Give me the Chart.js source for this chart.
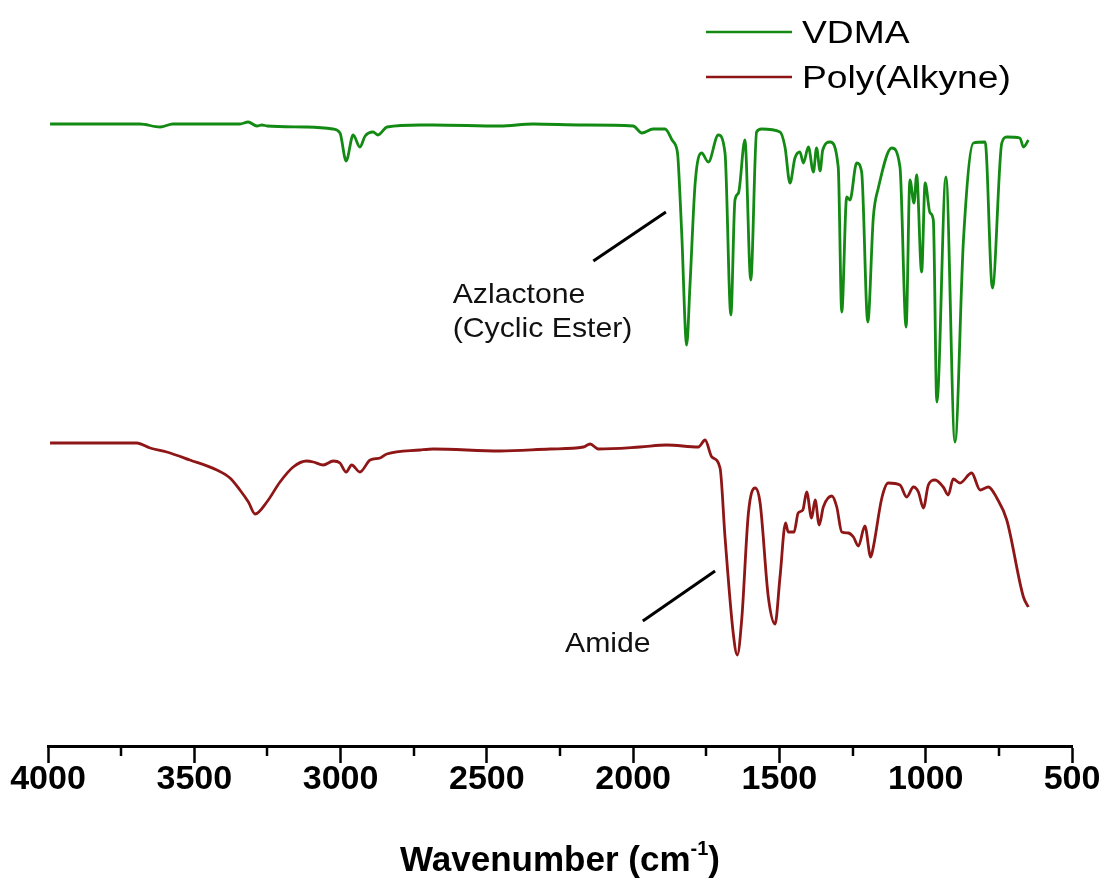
<!DOCTYPE html>
<html>
<head>
<meta charset="utf-8">
<title>FTIR VDMA vs Poly(Alkyne)</title>
<script src="https://cdn.jsdelivr.net/npm/chart.js@4.4.1/dist/chart.umd.min.js"></script>
<style>
    html, body { margin: 0; padding: 0; background: #fff; }
    #wrap { width: 1104px; height: 882px; }
</style>
</head>
<body>
<div id="wrap"><canvas id="ftir" width="1104" height="882"></canvas></div>
<script>
// values (offset transmittance, arbitrary units)
const vdmaWavenumber = [3993, 3686, 3617, 3573, 3344, 3316, 3286, 3269, 3251, 3115, 3026, 3002, 2981, 2957, 2934,
    2916, 2889, 2872, 2841, 2728, 2684, 2455, 2342, 2171, 2000, 1970, 1932, 1891, 1867, 1850,
    1847, 1834, 1817, 1806, 1788, 1766, 1743, 1709, 1686, 1666, 1652, 1640, 1618, 1598, 1578,
    1561, 1498, 1481, 1464, 1447, 1430, 1418, 1401, 1384, 1373, 1361, 1352, 1327, 1299, 1287,
    1270, 1259, 1236, 1219, 1198, 1179, 1162, 1116, 1088, 1067, 1054, 1040, 1031, 1014, 1002,
    985, 974, 962, 931, 900, 871, 837, 797, 772, 740, 723, 678, 666, 649];
const vdmaSignal = [622, 622, 619, 622, 622, 624, 620, 621, 620, 619, 617, 613, 585, 611, 599,
    610, 614, 611, 619, 621, 621, 620, 622, 621, 620, 613, 617, 617, 606, 596,
    589, 513, 401, 459, 563, 593, 584, 611, 593, 431, 546, 553, 606, 466, 614,
    617, 614, 599, 563, 588, 594, 583, 599, 574, 598, 575, 596, 604, 579, 434,
    549, 546, 583, 574, 424, 529, 558, 598, 579, 419, 566, 543, 571, 474, 563,
    533, 526, 344, 569, 304, 506, 603, 604, 458, 603, 609, 608, 599, 606];

const polyWavenumber = [3993, 3720, 3697, 3651, 3594, 3515, 3423, 3378, 3344, 3315, 3292, 3252, 3207, 3162, 3116,
    3093, 3059, 3025, 3002, 2981, 2962, 2934, 2899, 2865, 2842, 2728, 2683, 2455, 2284, 2170,
    2147, 2119, 1977, 1885, 1777, 1754, 1731, 1703, 1686, 1658, 1644, 1629, 1606, 1583, 1566,
    1538, 1515, 1498, 1479, 1470, 1450, 1436, 1420, 1407, 1390, 1378, 1364, 1350, 1321, 1304,
    1287, 1265, 1247, 1230, 1208, 1188, 1179, 1150, 1128, 1088, 1065, 1042, 1025, 1008, 991,
    968, 940, 923, 906, 883, 843, 814, 786, 757, 723, 666, 649];
const polySignal = [303, 303, 303, 298, 294, 286, 276, 268, 256, 244, 232, 244, 264, 279, 285,
    284, 281, 285, 283, 274, 281, 274, 286, 288, 292, 296, 297, 295, 297, 299,
    302, 297, 299, 301, 299, 306, 289, 278, 209, 113, 91, 126, 233, 258, 243,
    149, 122, 169, 223, 214, 214, 233, 236, 254, 228, 246, 221, 239, 250, 239,
    214, 213, 209, 200, 220, 189, 199, 248, 263, 261, 249, 259, 254, 238, 261,
    266, 259, 251, 267, 263, 273, 256, 259, 248, 226, 149, 139];

const seriesNames = ["VDMA", "Poly(Alkyne)"];
const seriesColors = ["#138a13", "#8e1616"];
const minorTicks = [3750, 3250, 2750, 2250, 1750, 1250, 750];

// annotation labels: [wavenumber, signal] anchors
const annotations = [
    { from: [2136, 485], to: [1888, 534], lines: ["Azlactone", "(Cyclic Ester)"], at: [2617, 443] },
    { from: [1967, 125], to: [1720, 175], lines: ["Amide"], at: [2233, 94] }
];

const FONT = '"Liberation Sans", Arial, sans-serif';

function toPoints(xs, ys) {
    return xs.map((x, i) => ({ x: x, y: ys[i] }));
}

// text in the original is a little wider than the font, stretch it
function wideText(ctx, s, x, y, sx) {
    ctx.save();
    ctx.translate(x, y);
    ctx.scale(sx, 1);
    ctx.fillText(s, 0, 0);
    ctx.restore();
}

const extras = {
    id: "extras",
    afterDraw(chart) {
        const ctx = chart.ctx;
        const xs = chart.scales.x;
        const ys = chart.scales.y;
        const area = chart.chartArea;
        ctx.save();

        // minor ticks
        ctx.strokeStyle = "#000";
        ctx.lineWidth = 2.5;
        for (const t of minorTicks) {
            const px = Math.round(xs.getPixelForValue(t));
            ctx.beginPath();
            ctx.moveTo(px, area.bottom);
            ctx.lineTo(px, area.bottom + 10);
            ctx.stroke();
        }

        // axis title with superscript
        const cx = (area.left + area.right) / 2;
        const by = area.bottom + 125;
        ctx.fillStyle = "#000";
        ctx.textBaseline = "alphabetic";
        ctx.textAlign = "left";
        const main = "Wavenumber (cm";
        ctx.font = "bold 35px " + FONT;
        const w1 = ctx.measureText(main).width;
        const w3 = ctx.measureText(")").width;
        ctx.font = "bold 20px " + FONT;
        const w2 = ctx.measureText("-1").width;
        let x0 = cx - (w1 + w2 + w3) / 2;
        ctx.font = "bold 35px " + FONT;
        ctx.fillText(main, x0, by);
        ctx.font = "bold 20px " + FONT;
        ctx.fillText("-1", x0 + w1, by - 16);
        ctx.font = "bold 35px " + FONT;
        ctx.fillText(")", x0 + w1 + w2, by);

        // annotations
        ctx.strokeStyle = "#000";
        ctx.lineWidth = 3;
        ctx.font = "28px " + FONT;
        ctx.fillStyle = "#111";
        for (const a of annotations) {
            ctx.beginPath();
            ctx.moveTo(xs.getPixelForValue(a.from[0]), ys.getPixelForValue(a.from[1]));
            ctx.lineTo(xs.getPixelForValue(a.to[0]), ys.getPixelForValue(a.to[1]));
            ctx.stroke();
            const tx = xs.getPixelForValue(a.at[0]);
            const ty = ys.getPixelForValue(a.at[1]);
            a.lines.forEach((s, i) => wideText(ctx, s, tx, ty + i * 34, 1.08));
        }

        // legend
        ctx.font = "31px " + FONT;
        ctx.fillStyle = "#000";
        const legY = [32, 77];
        seriesNames.forEach((name, i) => {
            ctx.strokeStyle = seriesColors[i];
            ctx.lineWidth = 2.7;
            ctx.beginPath();
            ctx.moveTo(706, legY[i]);
            ctx.lineTo(792, legY[i]);
            ctx.stroke();
            wideText(ctx, name, 802, legY[i] + 11, 1.2);
        });

        ctx.restore();
    }
};

const chart = new Chart(document.getElementById("ftir").getContext("2d"), {
    type: "line",
    data: {
        datasets: [
            {
                label: seriesNames[0],
                data: toPoints(vdmaWavenumber, vdmaSignal),
                borderColor: seriesColors[0],
                borderWidth: 2.8,
                pointRadius: 0,
                cubicInterpolationMode: "monotone",
                fill: false
            },
            {
                label: seriesNames[1],
                data: toPoints(polyWavenumber, polySignal),
                borderColor: seriesColors[1],
                borderWidth: 2.8,
                pointRadius: 0,
                cubicInterpolationMode: "monotone",
                fill: false
            }
        ]
    },
    options: {
        responsive: false,
        animation: false,
        devicePixelRatio: 1,
        layout: { padding: { left: 48, right: 32, top: 0, bottom: 85 } },
        plugins: {
            legend: { display: false },
            tooltip: { enabled: false }
        },
        scales: {
            x: {
                type: "linear",
                reverse: true,
                min: 500,
                max: 4000,
                border: { display: true, color: "#000", width: 3 },
                grid: {
                    display: true,
                    drawOnChartArea: false,
                    drawTicks: true,
                    tickLength: 17,
                    tickWidth: 2.5,
                    tickColor: "#000"
                },
                ticks: {
                    stepSize: 500,
                    autoSkip: false,
                    maxRotation: 0,
                    padding: 0,
                    color: "#000",
                    font: { family: FONT, size: 34, weight: "bold", lineHeight: 1.0 },
                    callback: (v) => String(v)
                }
            },
            y: {
                display: false,
                min: 0,
                max: 746
            }
        }
    },
    plugins: [extras]
});
</script>
</body>
</html>
